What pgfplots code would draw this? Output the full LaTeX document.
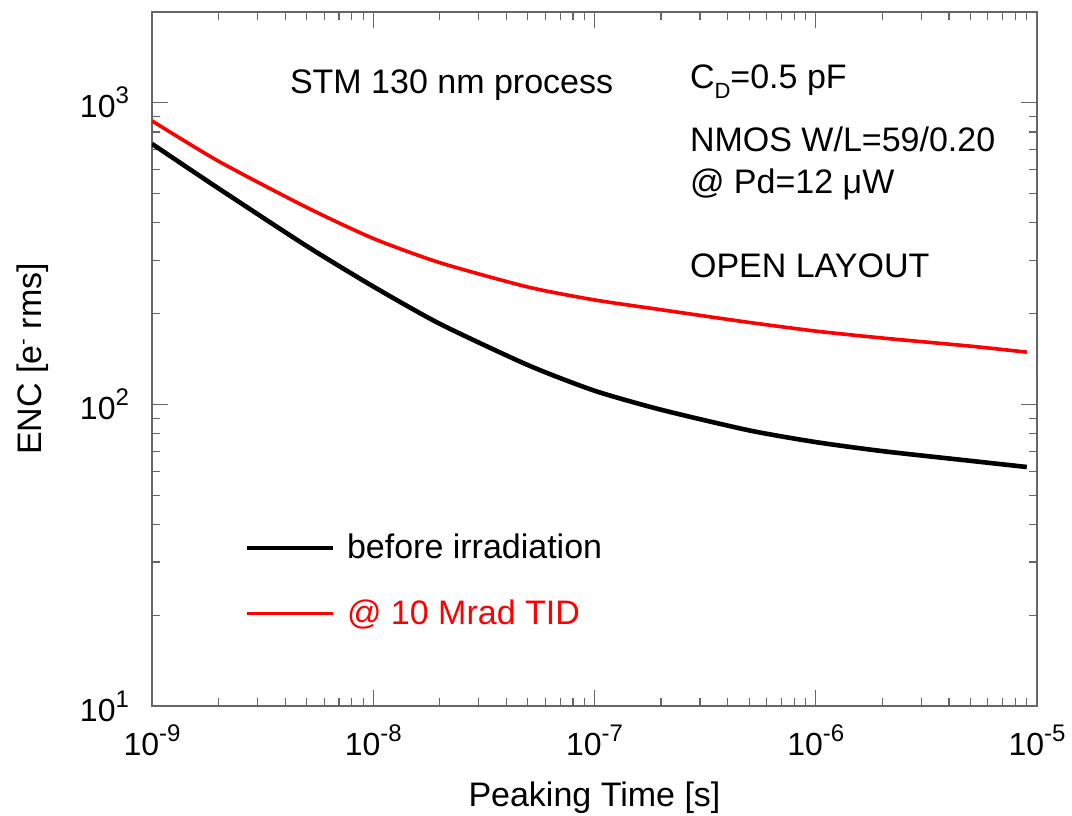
\documentclass[border=0pt]{standalone}
\usepackage{pgfplots}
\pgfplotsset{compat=1.18}
\usepackage{fontspec}
\setmainfont{Liberation Sans}
\newcommand{\tl}[1]{10\raisebox{7pt}{\fontsize{12}{12}\selectfont #1}}
\begin{document}
\begin{tikzpicture}
\begin{axis}[name=ax,
  xmode=log, ymode=log, scale only axis, width=442.5pt, height=347pt,
  xmin=1e-9, xmax=1e-5, ymin=10, ymax=2000,
  xtick={1e-9,1e-8,1e-7,1e-6,1e-5},
  xticklabels={\tl{-9},\tl{-8},\tl{-7},\tl{-6},\tl{-5}},
  ytick={10,100,1000},
  yticklabels={\tl{1},\tl{2},\tl{3}},
  tick align=inside, major tick length=8pt, minor tick length=4pt,
  axis line style={black!60, line width=0.8pt},
  every tick/.style={black!60, line width=0.6pt},
  ticklabel style={font=\fontsize{16}{16}\selectfont},
  xticklabel style={yshift=-6pt},
  yticklabel style={xshift=-8pt},
  xlabel={Peaking Time [s]},
  ylabel={ENC [e\raisebox{6pt}{\fontsize{10}{10}\selectfont -} rms]},
  label style={font=\fontsize{17}{18}\selectfont},
  xlabel style={yshift=-6pt},
  ylabel style={yshift=9pt},
  legend style={draw=none, fill=none, at={(rel axis cs:0.104,0.254)}, anchor=north west,
     font=\fontsize{17}{17}\selectfont, row sep=15pt, inner sep=0pt, column sep=4pt},
  legend cell align=left,
  legend image code/.code={\draw[#1] (0pt,0pt) -- (43pt,0pt);},
]
\addplot[black, line width=2.3pt, smooth, tension=0.4] coordinates {
(1e-9,731) (2e-9,520) (5e-9,335) (1e-8,246) (2e-8,185) (5e-8,135) (1e-7,111)
(2e-7,96) (5e-7,82) (1e-6,75) (2e-6,70) (5e-6,65) (9e-6,62)};
\addlegendentry{before irradiation}
\addplot[red, line width=1.8pt, smooth, tension=0.4] coordinates {
(1e-9,871) (2e-9,640) (5e-9,450) (1e-8,355) (2e-8,295) (5e-8,245) (1e-7,222)
(2e-7,206) (5e-7,187) (1e-6,175) (2e-6,166) (5e-6,156) (9e-6,149)};
\addlegendentry{\textcolor{red}{@ 10 Mrad TID}}
\node[anchor=west, font=\fontsize{17}{17}\selectfont] at (rel axis cs:0.148,0.894) {STM 130 nm process};
\node[anchor=west, font=\fontsize{17}{17}\selectfont] at (rel axis cs:0.600,0.900) {C\raisebox{-5pt}{\fontsize{11}{11}\selectfont D}=0.5 pF};
\node[anchor=west, font=\fontsize{17}{17}\selectfont] at (rel axis cs:0.600,0.816) {NMOS W/L=59/0.20};
\node[anchor=west, font=\fontsize{17}{17}\selectfont] at (rel axis cs:0.600,0.752) {@ Pd=12 μW};
\node[anchor=west, font=\fontsize{17}{17}\selectfont] at (rel axis cs:0.600,0.635) {OPEN LAYOUT};
\end{axis}
\pgfresetboundingbox
\path ([xshift=-76pt,yshift=-54.5pt]ax.south west) rectangle ([xshift=17.5pt,yshift=6pt]ax.north east);
\end{tikzpicture}
\end{document}
